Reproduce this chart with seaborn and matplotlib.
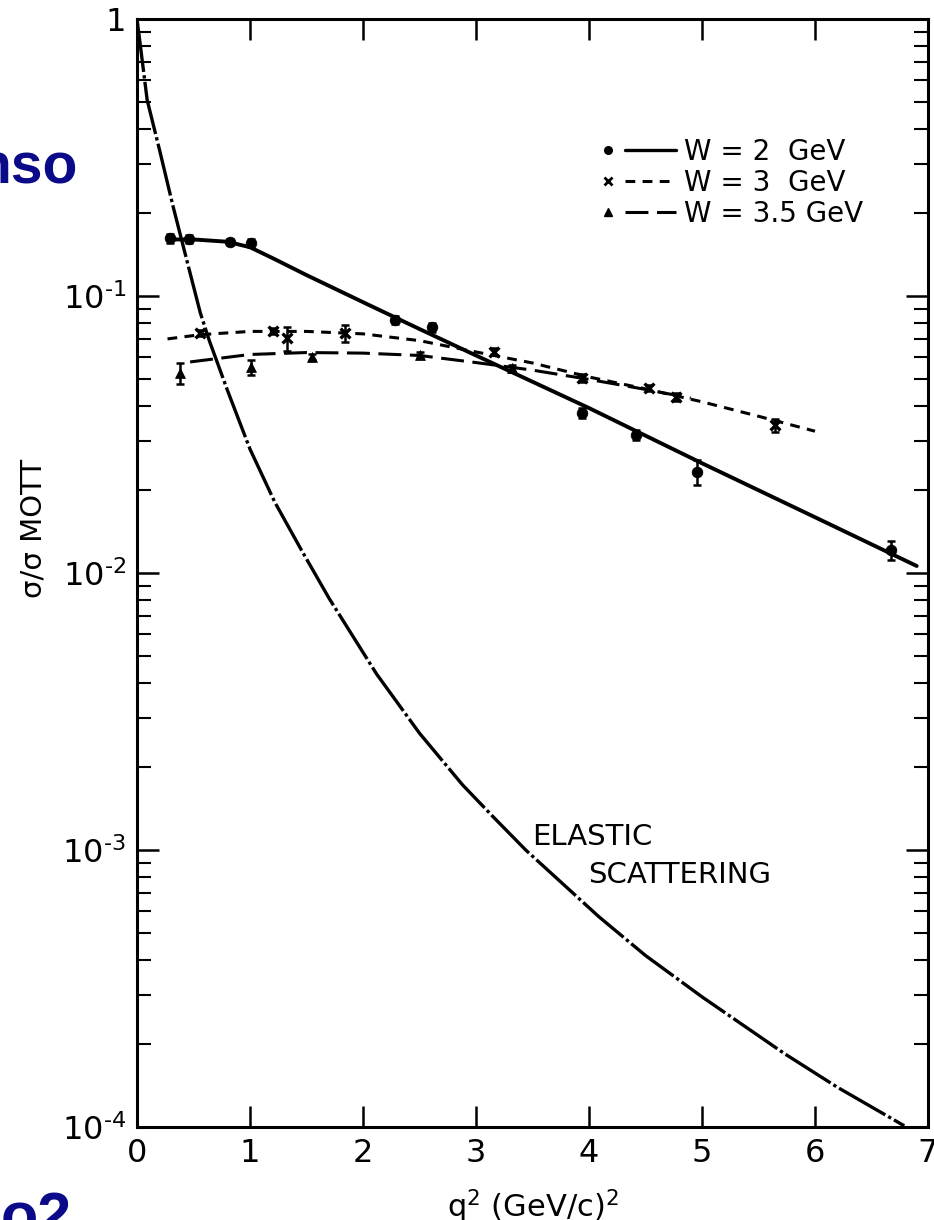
import matplotlib
matplotlib.use("Agg")
import matplotlib.pyplot as plt
import seaborn as sns
from matplotlib.lines import Line2D
from matplotlib.legend_handler import HandlerBase
from matplotlib.ticker import FixedLocator, LogLocator, NullFormatter

# ---- measured ratios sigma/sigma_Mott versus q^2 [(GeV/c)^2] ----
w2_q2 = [0.29, 0.46, 0.82, 1.01, 2.28, 2.61, 3.94, 4.42, 4.96, 6.67]
w2_val = [0.162, 0.161, 0.157, 0.155, 0.082, 0.077, 0.0378, 0.0315, 0.0232, 0.0121]
w2_err = [0.006, 0.005, 0.004, 0.005, 0.003, 0.003, 0.0016, 0.0012, 0.0024, 0.0010]

w3_q2 = [0.56, 1.20, 1.33, 1.84, 3.16, 3.94, 4.53, 4.77, 5.65]
w3_val = [0.0735, 0.0748, 0.0705, 0.0735, 0.063, 0.0506, 0.0466, 0.0432, 0.0342]
w3_err = [0.002, 0.002, 0.007, 0.005, 0.002, 0.0015, 0.0012, 0.0015, 0.0018]

w35_q2 = [0.38, 1.01, 1.55, 2.50, 3.32]
w35_val = [0.0527, 0.0554, 0.0604, 0.0612, 0.0548]
w35_err = [0.0045, 0.0035, 0.0015, 0.0015, 0.0015]

# ---- smooth curves through the data ----
w2_fit_q2 = [0.3, 0.5, 0.8, 1.0, 1.2, 1.5, 2.0, 2.5, 3.0, 4.0, 5.0, 6.0, 6.9]
w2_fit = [0.160, 0.160, 0.157, 0.150, 0.137, 0.119, 0.095, 0.076, 0.061, 0.0394, 0.0249, 0.0159, 0.0106]

w3_fit_q2 = [0.27, 0.56, 1.0, 1.5, 2.0, 2.5, 3.0, 3.5, 4.0, 4.5, 5.0, 5.5, 6.0]
w3_fit = [0.0700, 0.0725, 0.0745, 0.0745, 0.0730, 0.0690, 0.0628, 0.0573, 0.0510, 0.0462, 0.0415, 0.0368, 0.0325]

w35_fit_q2 = [0.47, 1.0, 1.5, 2.0, 2.5, 3.0, 3.5, 4.0, 4.5, 4.9]
w35_fit = [0.0578, 0.0615, 0.0625, 0.0622, 0.0610, 0.0575, 0.0540, 0.0500, 0.0460, 0.0428]

# elastic scattering curve
el_q2 = [0.0, 0.09, 0.20, 0.32, 0.44, 0.56, 0.64, 0.80, 1.00, 1.22, 1.45, 1.70, 2.12,
         2.50, 2.88, 3.15, 3.44, 4.09, 4.50, 5.00, 5.73, 6.20, 6.79]
el_val = [1.0, 0.51, 0.336, 0.21, 0.135, 0.087, 0.069, 0.0457, 0.028, 0.018, 0.0122,
          0.0081, 0.00432, 0.00264, 0.00172, 0.00132, 0.00100, 0.000573, 0.000416,
          0.000295, 0.000184, 0.000139, 0.000101]

legend_labels = ["W = 2  GeV", "W = 3  GeV", "W = 3.5 GeV"]
y_tick_vals = [1e-4, 1e-3, 1e-2, 1e-1, 1.0]
y_tick_text = ["$10^{\u2011" + "4}$", "$10^{\u2011" + "3}$", "$10^{\u2011" + "2}$",
               "$10^{\u2011" + "1}$", "1"]
x_tick_vals = [0, 1, 2, 3, 4, 5, 6, 7]

sns.set_theme(style="ticks")
plt.rcParams["font.family"] = ["DejaVu Sans"]
plt.rcParams["mathtext.fontset"] = "dejavusans"
for key in ("text.color", "axes.labelcolor", "xtick.color", "ytick.color", "axes.edgecolor"):
    plt.rcParams[key] = "black"

fig = plt.figure(figsize=(9.34, 12.2), dpi=100, facecolor="white")
ax = fig.add_axes([137 / 934, 1 - 1127 / 1220, (928 - 137) / 934, (1127 - 19) / 1220])
ax.set_facecolor("white")
ax.set_yscale("log")
ax.set_xlim(0, 7)
ax.set_ylim(1e-4, 1)

K = "black"
ls_w3 = (0, (3.2, 2.4))
ls_w35 = (0, (7.5, 2.8))
ls_el = (0, (16.0, 1.0, 1.0, 1.0))

# curves
sns.lineplot(x=el_q2, y=el_val, ax=ax, color=K, lw=2.4, linestyle=ls_el)
sns.lineplot(x=w2_fit_q2, y=w2_fit, ax=ax, color=K, lw=2.8)
sns.lineplot(x=w3_fit_q2, y=w3_fit, ax=ax, color=K, lw=2.2, linestyle=ls_w3)
sns.lineplot(x=w35_fit_q2, y=w35_fit, ax=ax, color=K, lw=2.2, linestyle=ls_w35)

# data points with error bars
for xs, ys, es in ((w2_q2, w2_val, w2_err), (w3_q2, w3_val, w3_err), (w35_q2, w35_val, w35_err)):
    ax.errorbar(xs, ys, yerr=es, fmt="none", ecolor=K, elinewidth=1.8, capsize=3, capthick=1.8, zorder=3)
sns.scatterplot(x=w2_q2, y=w2_val, ax=ax, marker="o", s=58, color=K, edgecolor=K, zorder=4)
sns.scatterplot(x=w3_q2, y=w3_val, ax=ax, marker="x", s=50, color=K, linewidth=2.4, zorder=4)
sns.scatterplot(x=w35_q2, y=w35_val, ax=ax, marker="^", s=50, color=K, edgecolor=K, zorder=4)

ax.text(3.50, 0.00111, "ELASTIC", fontsize=21, ha="left", va="center", color=K)
ax.text(3.99, 0.000813, "SCATTERING", fontsize=21, ha="left", va="center", color=K)


# legend: marker first, then a short piece of the curve
class MarkThenLine(HandlerBase):
    def create_artists(self, legend, orig_handle, xdescent, ydescent, width, height, fontsize, trans):
        mk, ln = orig_handle
        y = height / 2.0 - ydescent
        x0 = -xdescent
        dot = Line2D([x0 + 0.13 * width], [y])
        dot.update_from(mk)
        dot.set_transform(trans)
        seg = Line2D([x0 + 0.35 * width, x0 + width], [y, y])
        seg.update_from(ln)
        seg.set_transform(trans)
        return [dot, seg]


handles = [
    (Line2D([], [], ls="none", marker="o", ms=5.5, color=K),
     Line2D([], [], ls="-", lw=2.4, color=K)),
    (Line2D([], [], ls="none", marker="x", ms=5.5, mew=2, color=K),
     Line2D([], [], ls=ls_w3, lw=2.2, color=K)),
    (Line2D([], [], ls="none", marker="^", ms=5.5, color=K),
     Line2D([], [], ls=ls_w35, lw=2.2, color=K)),
]
ax.legend(handles=handles, labels=legend_labels, handler_map={tuple: MarkThenLine()},
          loc="upper left", bbox_to_anchor=(598 / 934, 1 - 138 / 1220),
          bbox_transform=fig.transFigure, frameon=False, fontsize=20,
          handlelength=2.8, handletextpad=0.3, labelspacing=0.1,
          borderpad=0, borderaxespad=0, labelcolor=K)

# axes frame and ticks
for s in ax.spines.values():
    s.set_linewidth(2.2)
    s.set_color(K)
ax.xaxis.set_major_locator(FixedLocator(x_tick_vals))
ax.set_xticklabels([str(v) for v in x_tick_vals])
ax.yaxis.set_major_locator(FixedLocator(y_tick_vals))
ax.set_yticklabels(y_tick_text)
ax.yaxis.set_minor_locator(LogLocator(base=10, subs=range(2, 10)))
ax.yaxis.set_minor_formatter(NullFormatter())
ax.tick_params(axis="x", which="major", direction="in", length=15, width=1.8,
               top=True, labelsize=23, pad=8, colors=K)
ax.tick_params(axis="y", which="major", direction="in", length=16, width=1.8,
               right=True, labelsize=23, pad=8, colors=K)
ax.tick_params(axis="y", which="minor", direction="in", length=10, width=1.5,
               right=True, colors=K)

ax.set_xlabel(r"$\mathregular{q^2\ (GeV/c)^2}$", fontsize=22, color=K)
ax.xaxis.set_label_coords(0.5, -0.055)
ax.set_ylabel("σ/σ MOTT", fontsize=21, color=K)
ax.yaxis.set_label_coords(-0.113, 0.54)

# slide lettering around the figure
navy = "#0B0B8A"
fig.text(78 / 934, 1 - 183 / 1220, "nso", ha="right", va="baseline", color=navy,
         fontsize=41, fontweight="bold", family=["Liberation Sans", "DejaVu Sans"])
fig.text(72 / 934, 1 - 1236 / 1220, "o2", ha="right", va="baseline", color=navy,
         fontsize=44, fontweight="bold", family=["Liberation Sans", "DejaVu Sans"])

fig.savefig("out.png", dpi=100, facecolor="white")
